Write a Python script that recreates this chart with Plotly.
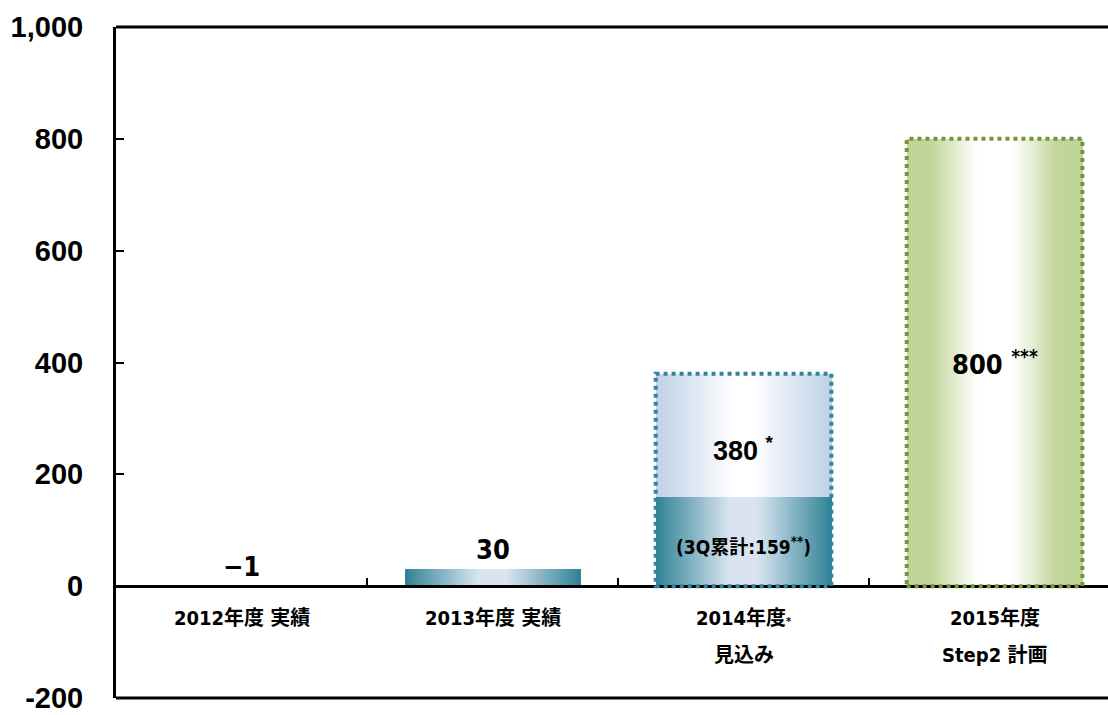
import plotly.graph_objects as go

# ---------------- data ----------------
categories = ["2012", "2013", "2014", "2015"]
label_line1 = ["2012年度 実績", "2013年度 実績", "2014年度<span style='font-size:11px'>*</span>", "2015年度"]
label_line2 = ["", "", "見込み", "Step2 計画"]
actual_values = [-1, 30, 159, None]     # results / 3Q cumulative
plan_values = [None, None, 380, 800]    # outlook / plan (total height)
value_labels = ["−1", "30", "380 <sup>*</sup>", "800 <sup>***</sup>"]
cumulative_label = "(3Q累計:159<sup>**</sup>)"
y_ticks = [-200, 0, 200, 400, 600, 800, 1000]
y_tick_text = ["-200", "0", "200", "400", "600", "800", "1,000"]

# ---------------- styles ----------------
BAR_W = 0.70
N = 60
TEAL = [(0, "#2e8296"), (0.42, "#dae4f0"), (0.58, "#dae4f0"), (1, "#2e8296")]
LIGHT = [(0, "#c0d0e7"), (0.45, "#ffffff"), (0.55, "#ffffff"), (1, "#c0d0e7")]
GREEN = [(0, "#c2d599"), (0.14, "#c2d599"), (0.4, "#ffffff"), (0.6, "#ffffff"), (0.86, "#c2d599"), (1, "#c2d599")]
plan_scales = [LIGHT, LIGHT, LIGHT, GREEN]
plan_borders = [None, None, "#31849B", "#77933C"]
NARROW = "DejaVu Sans Condensed, Noto Sans CJK JP, sans-serif"


def hex2rgb(h):
    h = h.lstrip("#")
    return tuple(int(h[i:i + 2], 16) for i in (0, 2, 4))


def sample(scale, t):
    for (t0, c0), (t1, c1) in zip(scale[:-1], scale[1:]):
        if t0 <= t <= t1:
            f = 0 if t1 == t0 else (t - t0) / (t1 - t0)
            a, b = hex2rgb(c0), hex2rgb(c1)
            return "rgb(%d,%d,%d)" % tuple(round(a[k] + (b[k] - a[k]) * f) for k in range(3))
    return scale[-1][1]


def gradient_bar(values, bases, scales):
    xs, ys, bs, offs, ws, cols = [], [], [], [], [], []
    for j, cat in enumerate(categories):
        if values[j] is None:
            continue
        for i in range(N):
            t = (i + 0.5) / N
            xs.append(cat)
            ys.append(values[j])
            bs.append(bases[j])
            offs.append(-BAR_W / 2 + i * BAR_W / N)
            ws.append(BAR_W / N * 1.08)
            cols.append(sample(scales[j], t))
    return go.Bar(x=xs, y=ys, base=bs, offset=offs, width=ws,
                  marker=dict(color=cols, line=dict(width=0)),
                  showlegend=False, hoverinfo="skip")


fig = go.Figure()

plan_seg = [None if p is None else p - (a or 0) for p, a in zip(plan_values, actual_values)]
plan_base = [None if p is None else (a or 0) for p, a in zip(plan_values, actual_values)]
fig.add_trace(gradient_bar(plan_seg, plan_base, plan_scales))
fig.add_trace(gradient_bar(actual_values, [0] * 4, [TEAL] * 4))

shapes = []
for j, p in enumerate(plan_values):
    if p is None:
        continue
    shapes.append(dict(type="rect", xref="x", yref="y",
                       x0=j - BAR_W / 2, x1=j + BAR_W / 2, y0=0, y1=p,
                       line=dict(color=plan_borders[j], width=4, dash="dot"),
                       fillcolor="rgba(0,0,0,0)"))
for yy in (0, 1):
    shapes.append(dict(type="line", xref="paper", yref="paper", x0=0, x1=1, y0=yy, y1=yy,
                       line=dict(color="black", width=3)))

annotations = []
for j, lab in enumerate(value_labels):
    if plan_values[j] is not None:
        top = plan_values[j]
        base = actual_values[j] or 0
        if actual_values[j] is not None:
            y, shift = (top + base) / 2, -14
            font = dict(family="Liberation Sans, Arial, sans-serif", size=27, color="black", weight="bold")
        else:
            y, shift = top / 2, 0
            font = dict(family=NARROW, size=27, color="black", weight="bold")
        annotations.append(dict(x=j, y=y, text=lab, showarrow=False,
                                xref="x", yref="y", yanchor="middle", yshift=shift, font=font))
    else:
        annotations.append(dict(x=j, y=max(actual_values[j], 0), text=lab, showarrow=False,
                                xref="x", yref="y", yanchor="bottom", yshift=2,
                                font=dict(family=NARROW, size=27, color="black", weight="bold")))
annotations.append(dict(x=2, y=actual_values[2] / 2, text=cumulative_label, showarrow=False,
                        xref="x", yref="y", yanchor="middle", yshift=-4,
                        font=dict(family=NARROW, size=19, color="black", weight="bold")))
for j in range(4):
    annotations.append(dict(x=j, y=0, text=label_line1[j], showarrow=False,
                            xref="x", yref="y", yanchor="top", yshift=-18,
                            font=dict(family=NARROW, size=20, color="black", weight="bold")))
    if label_line2[j]:
        annotations.append(dict(x=j, y=0, text=label_line2[j], showarrow=False,
                                xref="x", yref="y", yanchor="top", yshift=-55,
                                font=dict(family=NARROW, size=20, color="black", weight="bold")))

ymin, ymax = y_ticks[0], y_ticks[-1]
fig.update_layout(
    width=1108, height=715,
    margin=dict(l=116, r=0, t=27, b=17),
    paper_bgcolor="white", plot_bgcolor="white",
    barmode="overlay", bargap=0,
    shapes=shapes, annotations=annotations,
    xaxis=dict(type="category", categoryorder="array", categoryarray=categories,
               range=[-0.5, 3.452], anchor="free",
               position=(0 - ymin) / (ymax - ymin),
               showline=True, linecolor="black", linewidth=3,
               ticks="inside", tickson="boundaries", ticklen=7, tickwidth=2, tickcolor="black",
               showticklabels=False, showgrid=False, zeroline=False),
    yaxis=dict(range=[ymin, ymax], tickvals=y_ticks, ticktext=y_tick_text,
               showline=True, linecolor="black", linewidth=3,
               ticks="inside", ticklen=8, tickwidth=2, tickcolor="black",
               ticklabelstandoff=24,
               tickfont=dict(family="Liberation Sans, Arial, sans-serif", size=29, color="black", weight="bold"),
               showgrid=False, zeroline=False),
)

fig.write_html("out.html")
